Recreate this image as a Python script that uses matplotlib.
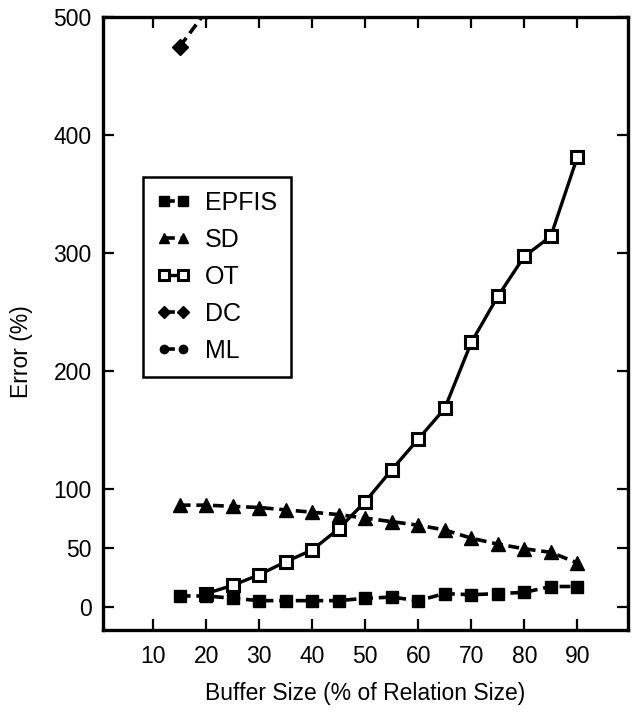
import matplotlib
matplotlib.use("Agg")
import matplotlib.pyplot as plt

plt.rcParams['font.family'] = ['Liberation Sans', 'DejaVu Sans']

# Buffer size (% of relation size)
x_all = [15, 20, 25, 30, 35, 40, 45, 50, 55, 60, 65, 70, 75, 80, 85, 90]
x_ot = [20, 25, 30, 35, 40, 45, 50, 55, 60, 65, 70, 75, 80, 85, 90]
x_dc = [15, 20]

# Error (%)
epfis = [9, 9, 7, 5, 5, 5, 5, 7, 8, 5, 11, 10, 11, 12, 17, 17]
sd = [86, 86, 85, 84, 82, 80, 78, 75, 72, 69, 65, 58, 53, 49, 46, 37]
ot = [11, 18, 27, 38, 48, 66, 89, 116, 142, 168, 224, 263, 297, 314, 381]
dc = [475, 505]
ml = []

x_ticks = [10, 20, 30, 40, 50, 60, 70, 80, 90]
y_ticks = [0, 50, 100, 200, 300, 400, 500]

fig = plt.figure(figsize=(6.39, 7.12), dpi=100)
ax = fig.add_axes([0.161, 0.115, 0.822, 0.861])

dash = (0, (3.0, 1.6))
lw = 2.6
ax.plot(x_ot, ot, color='black', lw=2.4, ls='-', marker='s', ms=9,
        mfc='white', mec='black', mew=2.2, label='OT', zorder=3)
ax.plot(x_all, epfis, color='black', lw=lw, ls=dash, marker='s', ms=9,
        mfc='black', mec='black', label='EPFIS', zorder=4)
ax.plot(x_all, sd, color='black', lw=lw, ls=dash, marker='^', ms=10,
        mfc='black', mec='black', label='SD', zorder=4)
ax.plot(x_dc, dc, color='black', lw=lw, ls=dash, marker='D', ms=8,
        mfc='black', mec='black', label='DC', zorder=4)
ax.plot(ml, ml, color='black', lw=lw, ls=dash, marker='o', ms=8,
        mfc='black', mec='black', label='ML', zorder=4)

ax.set_xlim(0.5, 99.6)
ax.set_ylim(-20, 500)
ax.set_xticks(x_ticks)
ax.set_yticks(y_ticks)
ax.tick_params(direction='in', length=8, width=1.6, top=True, right=True,
               labelsize=16.5)
ax.tick_params(axis='x', pad=11)
ax.tick_params(axis='y', pad=8)
for s in ax.spines.values():
    s.set_linewidth(2.4)

ax.set_xlabel('Buffer Size (% of Relation Size)', fontsize=16.5, labelpad=10)
ax.set_ylabel('Error (%)', fontsize=16.5)
ax.yaxis.set_label_coords(-0.133, 0.455)

handles, labels = ax.get_legend_handles_labels()
order = ['EPFIS', 'SD', 'OT', 'DC', 'ML']
hmap = dict(zip(labels, handles))
leg = ax.legend([hmap[k] for k in order], order, loc='upper left',
                bbox_to_anchor=(0.076, 0.739), fontsize=18, numpoints=2,
                markerscale=0.75, handlelength=1.35, handletextpad=0.6,
                labelspacing=0.52, borderpad=0.55, fancybox=False,
                framealpha=1, edgecolor='black', borderaxespad=0)
leg.get_frame().set_linewidth(1.8)

fig.savefig('out.png', dpi=100)
